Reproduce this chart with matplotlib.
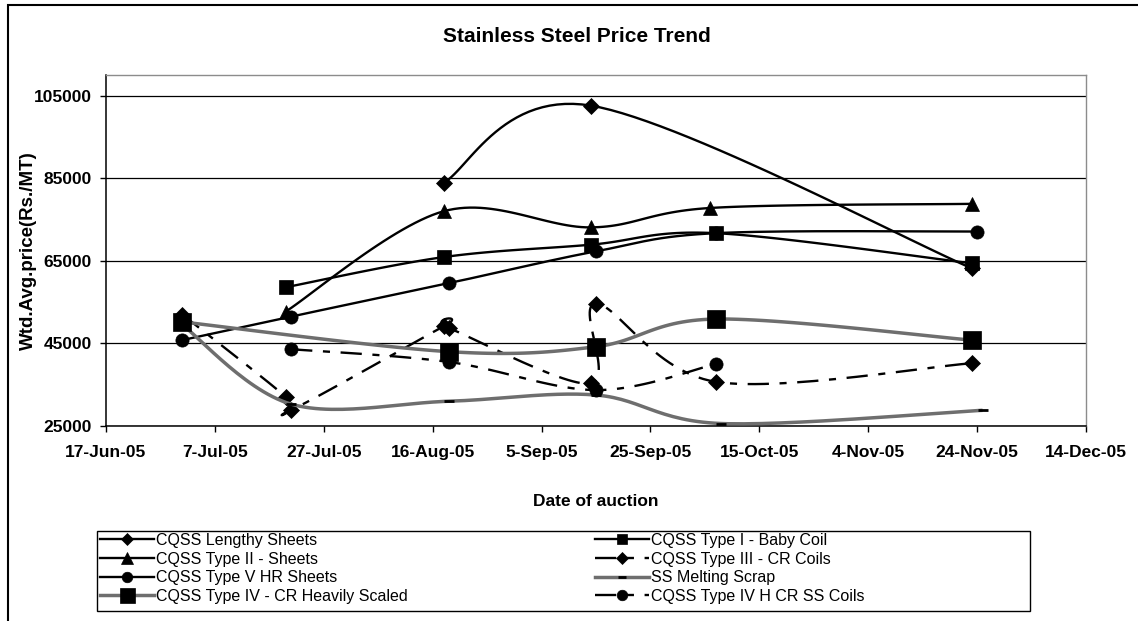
import numpy as np
import matplotlib
matplotlib.use('Agg')
import matplotlib.pyplot as plt
import matplotlib.dates as mdates
from matplotlib.lines import Line2D
from matplotlib.patches import Rectangle

plt.rcParams['font.family'] = ['Liberation Sans', 'DejaVu Sans']

# values (Rs./MT)
lengthy_dates = ['2005-08-18', '2005-09-14', '2005-11-23']
lengthy_vals = [83900, 102600, 63200]

baby_dates = ['2005-07-20', '2005-08-18', '2005-09-14', '2005-10-07', '2005-11-23']
baby_vals = [58600, 65900, 68900, 71700, 64400]

sheets2_dates = ['2005-07-20', '2005-08-18', '2005-09-14', '2005-10-06', '2005-11-23']
sheets2_vals = [52700, 77000, 73100, 77800, 78800]

cr3_dates = ['2005-07-01', '2005-07-20', '2005-07-21', '2005-08-18', '2005-08-19',
             '2005-09-14', '2005-09-15', '2005-10-07', '2005-11-23']
cr3_vals = [52000, 32100, 28900, 49100, 48700, 35300, 54600, 35700, 40200]

hr5_dates = ['2005-07-01', '2005-07-21', '2005-08-19', '2005-09-15', '2005-10-07', '2005-11-24']
hr5_vals = [45800, 51500, 59600, 67300, 71700, 72100]

scrap_dates = ['2005-07-01', '2005-07-21', '2005-08-19', '2005-09-15', '2005-10-08', '2005-11-25']
scrap_vals = [49500, 30300, 31000, 32500, 25600, 28800]

heavy_dates = ['2005-07-01', '2005-08-19', '2005-09-15', '2005-10-07', '2005-11-23']
heavy_vals = [50200, 43000, 44200, 50900, 45800]

hcr_dates = ['2005-07-21', '2005-08-19', '2005-09-15', '2005-10-07']
hcr_vals = [43600, 40500, 33700, 40000]

W, H = 1138, 621
fig = plt.figure(figsize=(W / 100, H / 100), dpi=100)
ax = fig.add_axes([106 / W, 1 - 426 / H, 980 / W, 351 / H])

x_start = mdates.datestr2num('2005-06-17')
x_end = mdates.datestr2num('2005-12-14')
ax.set_xlim(x_start, x_end)
ax.set_ylim(25000, 110000)


def smooth(xs, ys, n=30):
    # Excel-like smoothed line (Catmull-Rom bezier) computed in screen proportions
    x0, x1 = ax.get_xlim()
    y0, y1 = ax.get_ylim()
    bb = ax.get_window_extent()
    sx = bb.width / (x1 - x0)
    sy = bb.height / (y1 - y0)
    p = np.column_stack([(np.asarray(xs) - x0) * sx, (np.asarray(ys) - y0) * sy])
    if len(p) < 3:
        return xs, ys
    ext = np.vstack([p[0], p, p[-1]])
    t = np.linspace(0, 1, n)[1:, None]
    out = [p[0][None, :]]
    for i in range(1, len(ext) - 2):
        p0, p1, p2, p3 = ext[i - 1], ext[i], ext[i + 1], ext[i + 2]
        c1 = p1 + (p2 - p0) / 6
        c2 = p2 - (p3 - p1) / 6
        seg = (1 - t) ** 3 * p1 + 3 * (1 - t) ** 2 * t * c1 + 3 * (1 - t) * t ** 2 * c2 + t ** 3 * p2
        out.append(seg)
    out = np.vstack(out)
    return out[:, 0] / sx + x0, out[:, 1] / sy + y0


dashdot = (0, (9, 4.5, 3, 4.5))
gray = '#6e6e6e'
series = [
    ('CQSS Lengthy Sheets', lengthy_dates, lengthy_vals, 'black', '-', 1.7, 'D', 8),
    ('CQSS Type I - Baby Coil', baby_dates, baby_vals, 'black', '-', 1.7, 's', 9.5),
    ('CQSS Type II - Sheets', sheets2_dates, sheets2_vals, 'black', '-', 1.7, '^', 10),
    ('CQSS Type III - CR Coils', cr3_dates, cr3_vals, 'black', dashdot, 1.7, 'D', 8),
    ('CQSS Type V HR Sheets', hr5_dates, hr5_vals, 'black', '-', 1.7, 'o', 9.5),
    ('SS Melting Scrap', scrap_dates, scrap_vals, gray, '-', 2.5, '_', 7),
    ('CQSS Type IV - CR Heavily Scaled', heavy_dates, heavy_vals, gray, '-', 2.5, 's', 13.5),
    ('CQSS Type IV H CR SS Coils', hcr_dates, hcr_vals, 'black', dashdot, 1.7, 'o', 9.5),
]

handles = {}
for i, (name, ds, vals, col, ls, lw, mk, ms) in enumerate(series):
    xs = mdates.datestr2num(ds)
    sxv, syv = smooth(xs, vals)
    ax.plot(sxv, syv, color=col, linestyle=ls, linewidth=lw, zorder=3 + i,
            solid_capstyle='butt', dash_capstyle='butt')
    mew = 2 if mk == '_' else 0.5
    ax.plot(xs, vals, linestyle='none', marker=mk, markersize=ms, color='black',
            markeredgewidth=mew, zorder=3 + i, clip_on=False)
    handles[name] = Line2D([], [], color=col, linestyle=ls, linewidth=lw, marker=mk,
                           markersize=ms * 0.8, markerfacecolor='black',
                           markeredgecolor='black', markeredgewidth=mew)

# axes styling
ax.set_yticks(range(25000, 105001, 20000))
ax.set_xticks([x_start + 20 * k for k in range(10)])
ax.xaxis.set_major_formatter(mdates.DateFormatter('%-d-%b-%y'))
ax.yaxis.grid(True, color='black', linewidth=0.9)
ax.set_axisbelow(True)
for side in ['top', 'right']:
    ax.spines[side].set_color('#8c8c8c')
    ax.spines[side].set_linewidth(1.0)
for side in ['left', 'bottom']:
    ax.spines[side].set_color('black')
    ax.spines[side].set_linewidth(1.1)
ax.tick_params(axis='y', direction='out', length=4.5, width=1, pad=5.5, labelsize=12.5)
ax.tick_params(axis='x', direction='out', length=4.5, width=1, pad=9, labelsize=12.5)
for lab in ax.get_xticklabels() + ax.get_yticklabels():
    lab.set_fontweight('bold')

ax.set_ylabel('Wtd.Avg.price(Rs./MT)', fontsize=13.5, fontweight='bold')
ax.yaxis.set_label_coords(-(106 - 28) / 980, 0.5)
ax.yaxis.label.set_verticalalignment('center')
fig.text(596 / W, 1 - 501 / H, 'Date of auction', ha='center', va='center',
         fontsize=12.5, fontweight='bold')
fig.text(577 / W, 1 - 37 / H, 'Stainless Steel Price Trend', ha='center', va='center',
         fontsize=15, fontweight='bold')

# legend, two columns like the original
col1 = ['CQSS Lengthy Sheets', 'CQSS Type II - Sheets', 'CQSS Type V HR Sheets',
        'CQSS Type IV - CR Heavily Scaled']
col2 = ['CQSS Type I - Baby Coil', 'CQSS Type III - CR Coils', 'SS Melting Scrap',
        'CQSS Type IV H CR SS Coils']
leg_kw = dict(loc='upper left', frameon=False, fontsize=11.5, handlelength=3.4,
              handletextpad=0.1, labelspacing=0.23, borderpad=0, borderaxespad=0,
              numpoints=1)
fig.legend([handles[n] for n in col1], col1,
           bbox_to_anchor=(100 / W, 1 - 533 / H), **leg_kw)
fig.legend([handles[n] for n in col2], col2,
           bbox_to_anchor=(595 / W, 1 - 533 / H), **leg_kw)

fig.add_artist(Rectangle((97 / W, 1 - 611 / H), (1030 - 97) / W, (611 - 531) / H,
                         transform=fig.transFigure, fill=False, edgecolor='black',
                         linewidth=1.0))
# outer chart border
fig.add_artist(Rectangle((8 / W, 1 - 640 / H), (1160 - 8) / W, (640 - 5) / H,
                         transform=fig.transFigure, fill=False, edgecolor='black',
                         linewidth=1.5, clip_on=False))

fig.savefig('out.png', dpi=100)
